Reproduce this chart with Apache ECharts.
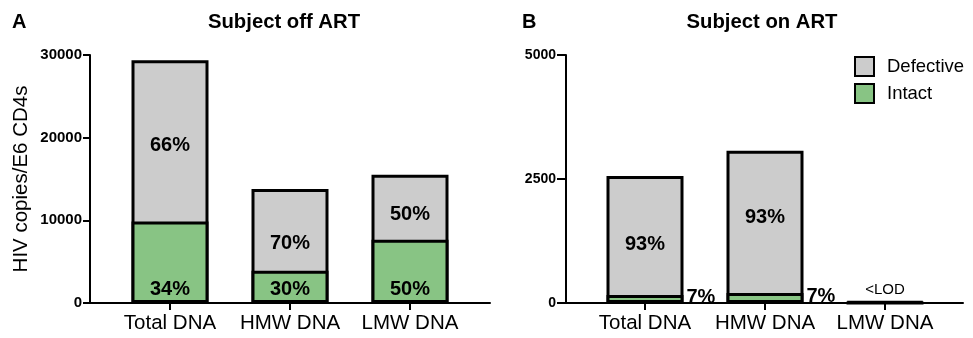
<!DOCTYPE html>
<html>
<head>
<meta charset="utf-8">
<script src="https://cdn.jsdelivr.net/npm/echarts@6/dist/echarts.min.js"></script>
<style>html,body{margin:0;padding:0;background:#fff;}#c{width:973px;height:338px;}</style>
</head>
<body>
<div id="c"></div>
<script>
const categories = ['Total DNA', 'HMW DNA', 'LMW DNA'];
const offIntact = [9850, 3900, 7650];
const offDefective = [19500, 9900, 7850];
const offIntactPct = ['34%', '30%', '50%'];
const offDefectivePct = ['66%', '70%', '50%'];
const onIntact = [160, 200, 0];
const onDefective = [2400, 2870, 28];
const onIntactPct = ['7%', '7%', ''];
const onDefectivePct = ['93%', '93%', '<LOD'];
const offTicks = [0, 10000, 20000, 30000];
const onTicks = [0, 2500, 5000];

const FONT = 'Arial, Liberation Sans, Helvetica, sans-serif';
const GRAY = '#cccccc';
const GREEN = '#88c484';
const axisLineStyle = { color: '#000', width: 2 };
const txt = (size, weight) => ({ fontSize: size, fontWeight: weight || 'normal', fontFamily: FONT, color: '#000' });

function panelSeries(xi, intact, defective, intactPct, defectivePct, intactLabel, defLabelItem) {
  const totals = intact.map((v, i) => v + defective[i]);
  return [
    { name: 'Defective', type: 'bar', stack: 'total' + xi, xAxisIndex: xi, yAxisIndex: xi, barWidth: 77, barGap: '-100%',
      itemStyle: { color: GRAY, borderColor: '#000', borderWidth: 3 }, label: { show: false }, data: totals },
    { name: 'Intact', type: 'bar', stack: 'parts' + xi, xAxisIndex: xi, yAxisIndex: xi, barWidth: 77, barGap: '-100%',
      itemStyle: { color: GREEN, borderColor: '#000', borderWidth: 3 },
      label: Object.assign({ show: true }, txt(20, 'bold'), { formatter: p => intactPct[p.dataIndex] }, intactLabel),
      data: intact },
    { name: 'defLabels', type: 'bar', stack: 'parts' + xi, xAxisIndex: xi, yAxisIndex: xi, barWidth: 77, barGap: '-100%',
      itemStyle: { color: 'rgba(0,0,0,0)' }, silent: true,
      label: Object.assign({ show: true, position: 'inside' }, txt(20, 'bold'), { formatter: p => defectivePct[p.dataIndex] }),
      data: defective.map((v, i) => Object.assign({ value: v }, defLabelItem(i))) }
  ];
}

const chart = echarts.init(document.getElementById('c'));
const catAxis = gi => ({ type: 'category', gridIndex: gi, data: categories, axisLine: { show: false },
  axisTick: { show: true, alignWithLabel: true, length: 7, lineStyle: axisLineStyle },
  axisLabel: Object.assign({ interval: 0, margin: 10 }, txt(20.5)) });
const lineAxis = gi => ({ type: 'value', gridIndex: gi, min: 0, max: 1, axisLine: { show: true, lineStyle: axisLineStyle },
  axisTick: { show: false }, axisLabel: { show: false }, splitLine: { show: false } });

const option = {
  animation: false,
  textStyle: { fontFamily: FONT },
  title: [
    { text: 'A', left: 12, top: 12, padding: 0, textStyle: txt(20, 'bold') },
    { text: 'Subject off ART', left: 284, top: 12, padding: 0, textAlign: 'center', textStyle: txt(20.3, 'bold') },
    { text: 'B', left: 522, top: 12, padding: 0, textStyle: txt(20, 'bold') },
    { text: 'Subject on ART', left: 762, top: 12, padding: 0, textAlign: 'center', textStyle: txt(20.3, 'bold') }
  ],
  legend: {
    orient: 'vertical', left: 854, top: 56, padding: 0, itemWidth: 19, itemHeight: 19, itemGap: 6, icon: 'rect',
    data: ['Defective', 'Intact'],
    itemStyle: { borderColor: '#000', borderWidth: 2 },
    textStyle: Object.assign(txt(18.5), { padding: [0, 0, 0, 8] })
  },
  grid: [
    { left: 110, width: 360, top: 55, height: 248 },
    { left: 90, width: 400, top: 55, height: 248 },
    { left: 585, width: 360, top: 55, height: 248 },
    { left: 566, width: 397, top: 55, height: 248 }
  ],
  xAxis: [catAxis(0), lineAxis(1), catAxis(2), lineAxis(3)],
  yAxis: [
    { type: 'value', gridIndex: 0, min: offTicks[0], max: offTicks[offTicks.length - 1], interval: offTicks[1] - offTicks[0],
      offset: 20, axisLine: { show: true, lineStyle: axisLineStyle },
      axisTick: { show: true, length: 7, lineStyle: axisLineStyle }, splitLine: { show: false },
      axisLabel: Object.assign({ margin: 8, formatter: v => String(v) }, txt(15, 'bold')),
      name: 'HIV copies/E6 CD4s', nameLocation: 'middle', nameRotate: 90, nameGap: 58,
      nameTextStyle: txt(20.5) },
    { type: 'value', gridIndex: 1, min: 0, max: 1, show: false },
    { type: 'value', gridIndex: 2, min: onTicks[0], max: onTicks[onTicks.length - 1], interval: onTicks[1] - onTicks[0],
      offset: 19, axisLine: { show: true, lineStyle: axisLineStyle },
      axisTick: { show: true, length: 9, lineStyle: axisLineStyle }, splitLine: { show: false },
      axisLabel: Object.assign({ margin: 10, formatter: v => String(v) }, txt(14, 'bold')) },
    { type: 'value', gridIndex: 3, min: 0, max: 1, show: false }
  ],
  series: [].concat(
    panelSeries(0, offIntact, offDefective, offIntactPct, offDefectivePct,
      { position: 'insideBottom', distance: 4 },
      i => ({ label: { offset: [0, [5, 14, 7][i]] } })),
    panelSeries(2, onIntact, onDefective, onIntactPct, onDefectivePct,
      { position: 'right', distance: 3, offset: [0, -2] },
      i => i === 2 ? ({ label: Object.assign({ position: 'top', distance: 4 }, txt(15)) }) : ({ label: { offset: [0, [9, -4, 0][i]] } }))
  )
};
chart.setOption(option);
</script>
</body>
</html>
